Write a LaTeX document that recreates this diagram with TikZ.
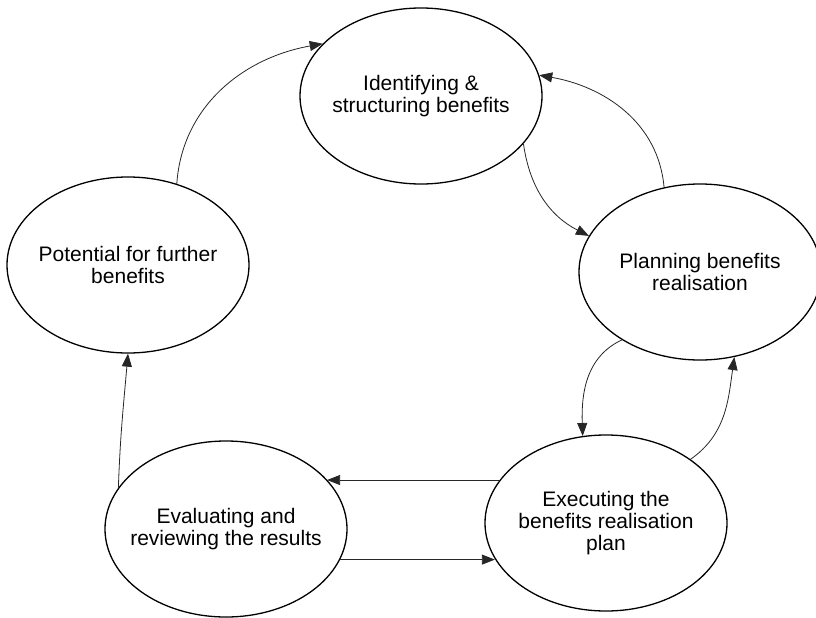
\documentclass[tikz,border=0pt]{standalone}
\usepackage{fontspec}
\setmainfont{Liberation Sans}
\usetikzlibrary{arrows.meta,shapes.geometric,positioning}

\begin{document}
\begin{tikzpicture}[x=1pt, y=-1pt, stage/.style = {ellipse, draw=black, line width=1.3pt, align=center, inner sep=0pt, inner xsep=-12pt, minimum width=242pt, minimum height=176pt, font=\fontsize{21}{22}\selectfont}, link/.style = {draw=black!85, line width=0.8pt, -{Triangle[length=13pt, width=10pt]}}]
\useasboundingbox (0,0) rectangle (816,618);
\node [stage] (ident) at (421,96) {Identifying \&\\structuring benefits};
\node [stage] (pot) at (128,265) {Potential for further\\benefits};
\node [stage] (plan) at (700,272) {Planning benefits\\realisation};
\node [stage] (exe) at (606,523) {Executing the\\benefits realisation\\plan};
\node [stage] (eval) at (226,529) {Evaluating and\\reviewing the results};

\draw [link] (pot.59) to[out=86, in=190] (ident.152);
\draw [link] (plan.113) to[out=95, in=-10] (ident.10);
\draw [link] (ident.-25) to[out=-82, in=153] (plan.162);
\draw [link] (plan.221) to[out=205, in=92] (exe.105);
\draw [link] (exe.37) to[out=35, in=262] (plan.-68);
\draw [link] (exe.158) -- (exe.158 -| eval.26);
\draw [link] (eval.-15) -- (eval.-15 -| exe.198);
\draw [link] (eval.159) to[out=88, in=265] (pot.south);
\end{tikzpicture}
\end{document}
